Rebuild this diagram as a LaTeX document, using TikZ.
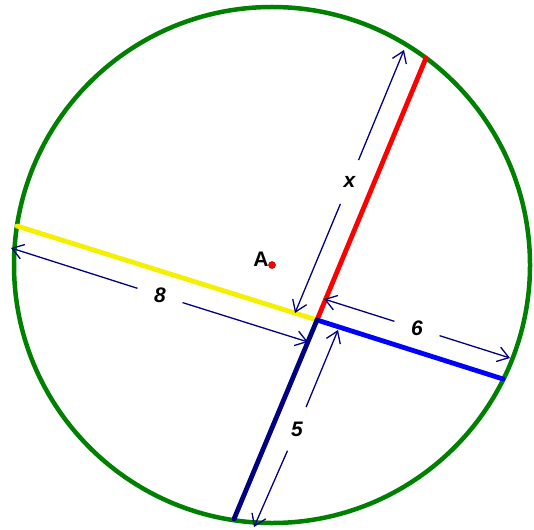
\documentclass[tikz,border=0pt]{standalone}
\usepackage{fontspec}
\setmainfont{Liberation Sans}
\usetikzlibrary{arrows.meta}
\definecolor{cgreen}{RGB}{0,128,0}
\definecolor{cyellow}{RGB}{245,240,0}
\definecolor{cred}{RGB}{255,0,0}
\definecolor{cblue}{RGB}{0,0,255}
\definecolor{cnavy}{RGB}{0,0,128}
\tikzset{
  chord/.style={line width=4.8pt, line cap=round},
  dim/.style={cnavy, line width=1.3pt, -{Straight Barb[length=11pt,width=15pt,line width=1.3pt]}},
  lab/.style={circle, minimum size=47pt, inner sep=0pt, font=\fontsize{21}{25}\selectfont\bfseries\itshape},
}
\begin{document}
\begin{tikzpicture}[x=1pt,y=-1pt]
\useasboundingbox (0,0) rectangle (534,529);
\coordinate (A) at (272,265);
\coordinate (P) at (317,320);
\coordinate (Y) at (17,226);
\coordinate (R) at (426,58);
\coordinate (B) at (503,379);
\coordinate (N) at (234,519);
% circle
\draw[cgreen, line width=4.5pt] (A) circle[radius=258];
% chords
\draw[chord, cyellow] (Y) -- (P);
\draw[chord, cred] (R) -- (P);
\draw[chord, cblue] (B) -- (P);
\draw[chord, cnavy] (N) -- (P);
% dimension ends
\coordinate (xt) at (404,50);
\coordinate (xb) at (295,313);
\coordinate (ea) at (11,248);
\coordinate (eb) at (308,342);
\coordinate (sa) at (324,299);
\coordinate (sb) at (510,358);
\coordinate (fa) at (338,330);
\coordinate (fb) at (254,527);
\node[lab] (xl) at (349.5,182) {x};
\node[lab] (el) at (160,295.5) {8};
\node[lab] (sl) at (417,328.5) {6};
\node[lab] (fl) at (297,429) {5};
\draw[dim] (xl) -- (xt);
\draw[dim] (xl) -- (xb);
\draw[dim] (el) -- (ea);
\draw[dim] (el) -- (eb);
\draw[dim] (sl) -- (sa);
\draw[dim] (sl) -- (sb);
\draw[dim] (fl) -- (fa);
\draw[dim] (fl) -- (fb);
% point A
\fill[cred, draw=red!60!black, line width=0.5pt] (A) circle[radius=3.5];
\node[font=\fontsize{21}{25}\selectfont\bfseries, anchor=center] (Al) at (261,259) {A};
\end{tikzpicture}
\end{document}
